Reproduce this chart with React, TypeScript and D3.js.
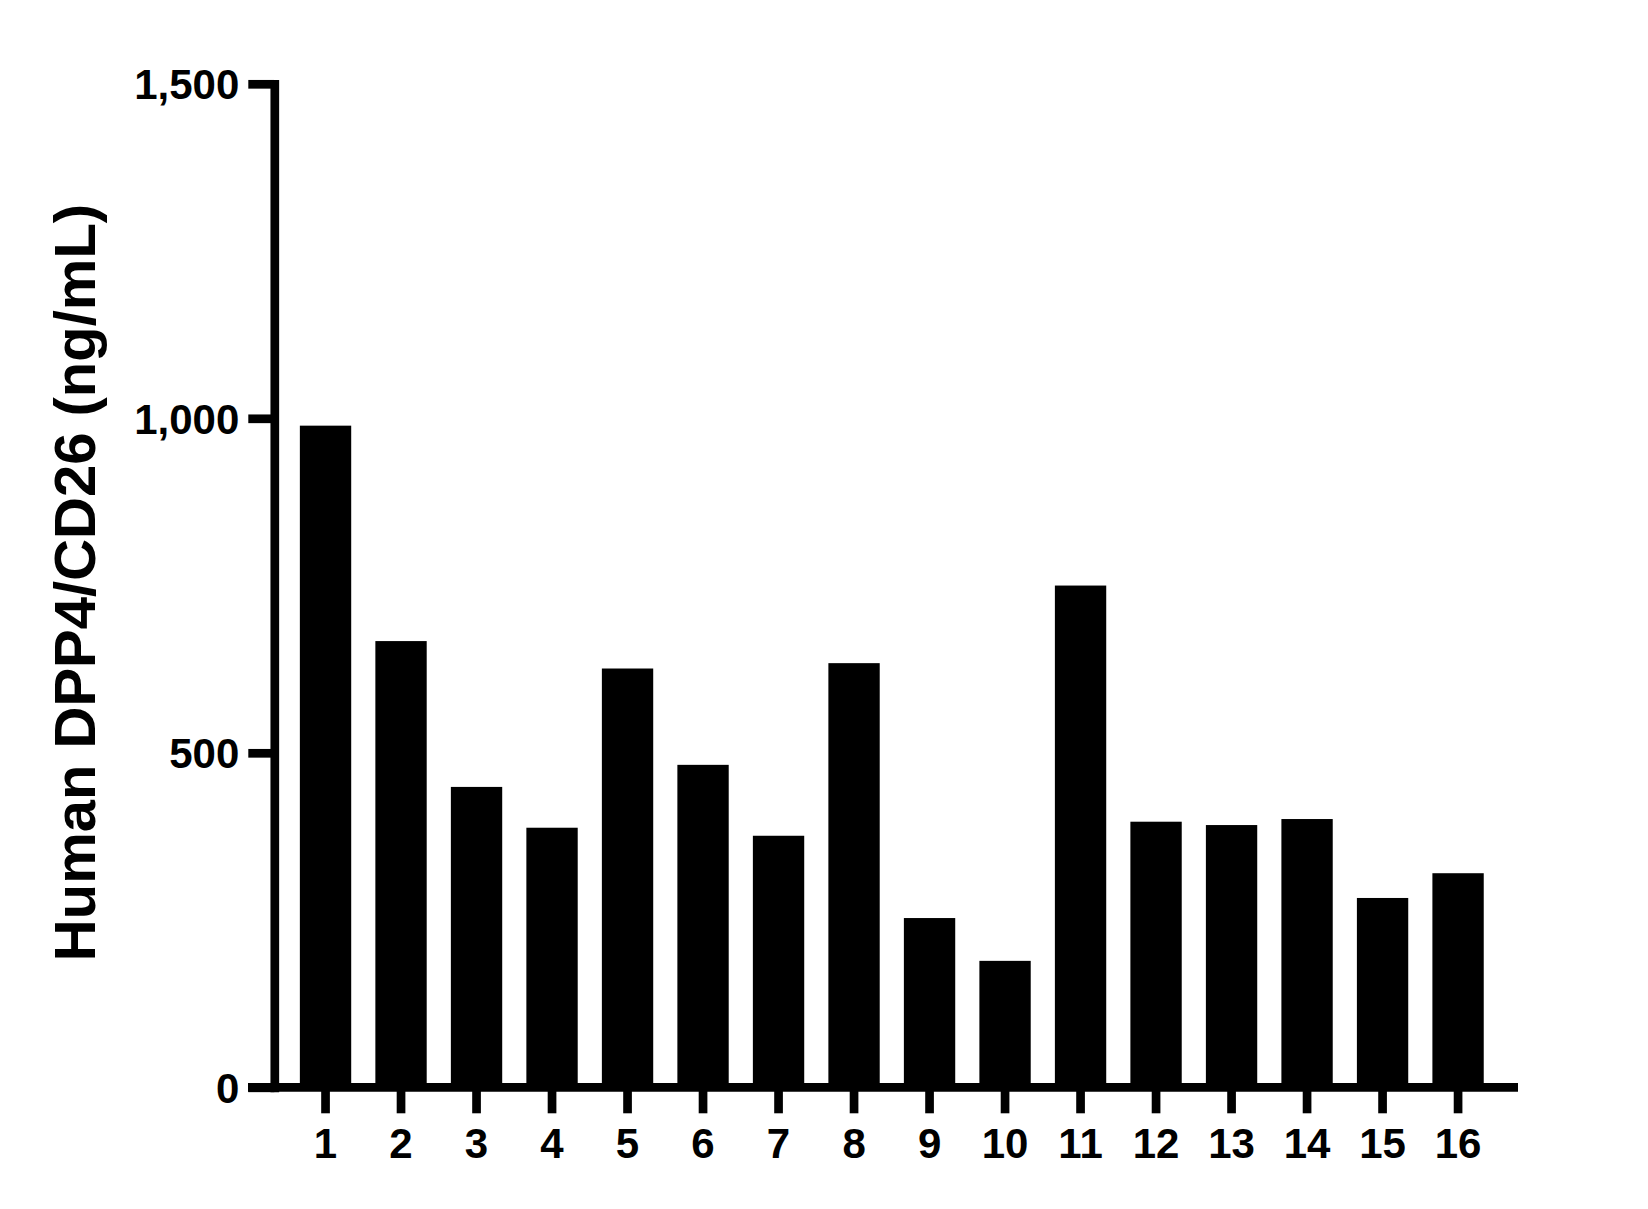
import React, { useRef, useEffect } from "react";
import * as d3 from "d3";

// sample ids along the x axis
const sampleIds = ["1", "2", "3", "4", "5", "6", "7", "8", "9", "10", "11", "12", "13", "14", "15", "16"];
const concentrations = [989, 667, 449, 388, 626, 482, 376, 634, 253, 189, 750, 397, 392, 401, 283, 320];
const yTickValues = [0, 500, 1000, 1500];
const yLabel = "Human DPP4/CD26 (ng/mL)";

const W = 1648;
const H = 1209;
const FONT = "'Liberation Sans', Arial, Helvetica, sans-serif";
const LINE_W = 8.7;

export default function App() {
  const yAxisRef = useRef<SVGGElement>(null);
  const xAxisRef = useRef<SVGGElement>(null);

  const x = d3
    .scaleBand<string>()
    .domain(sampleIds)
    .range([275.7, 1507.9])
    .paddingInner(0.32)
    .paddingOuter(0.32);

  const y = d3.scaleLinear().domain([0, 1500]).range([1087.3, 83.8]);

  useEffect(() => {
    if (!yAxisRef.current || !xAxisRef.current) return;

    // left axis
    const yAxis = d3
      .axisLeft(y)
      .tickValues(yTickValues)
      .tickFormat(d3.format(","))
      .tickSize(26)
      .tickSizeOuter(0)
      .tickPadding(9);
    const gy = d3.select(yAxisRef.current);
    gy.selectAll("*").remove();
    gy.call(yAxis);
    gy.select(".domain")
      .attr("stroke", "#000")
      .attr("stroke-width", LINE_W)
      .attr("stroke-linecap", "square");
    gy.selectAll(".tick line").attr("stroke", "#000").attr("stroke-width", LINE_W);
    gy.selectAll(".tick text")
      .attr("fill", "#000")
      .attr("dy", "0.36em")
      .style("font-family", FONT)
      .style("font-size", "42px")
      .style("font-weight", "bold");

    // bottom axis (ticks only, baseline drawn separately)
    const xAxis = d3.axisBottom(x).tickSize(26).tickSizeOuter(0).tickPadding(15.2);
    const gx = d3.select(xAxisRef.current);
    gx.selectAll("*").remove();
    gx.call(xAxis);
    gx.select(".domain").remove();
    gx.selectAll(".tick line").attr("stroke", "#000").attr("stroke-width", LINE_W);
    gx.selectAll(".tick text")
      .attr("fill", "#000")
      .style("font-family", FONT)
      .style("font-size", "42px")
      .style("font-weight", "bold");
  }, []);

  return (
    <svg
      width={W}
      height={H}
      style={{ position: "absolute", left: 0, top: 0, background: "#fff" }}
    >
      <rect width={W} height={H} fill="#fff" />
      <g className="bars">
        {concentrations.map((v, i) => (
          <rect
            key={sampleIds[i]}
            x={x(sampleIds[i])}
            y={y(v)}
            width={x.bandwidth()}
            height={y(0) - y(v)}
            fill="#000"
          />
        ))}
      </g>
      <line x1={248} x2={1518} y1={y(0)} y2={y(0)} stroke="#000" strokeWidth={LINE_W} />
      <g ref={xAxisRef} transform={`translate(0,${y(0)})`} />
      <g ref={yAxisRef} transform={`translate(274.3,0)`} />
      <text
        transform={`translate(95,${(960 + 205) / 2}) rotate(-90)`}
        textAnchor="middle"
        fontFamily={FONT}
        fontSize={58}
        fontWeight="bold"
        fill="#000"
      >
        {yLabel}
      </text>
    </svg>
  );
}
